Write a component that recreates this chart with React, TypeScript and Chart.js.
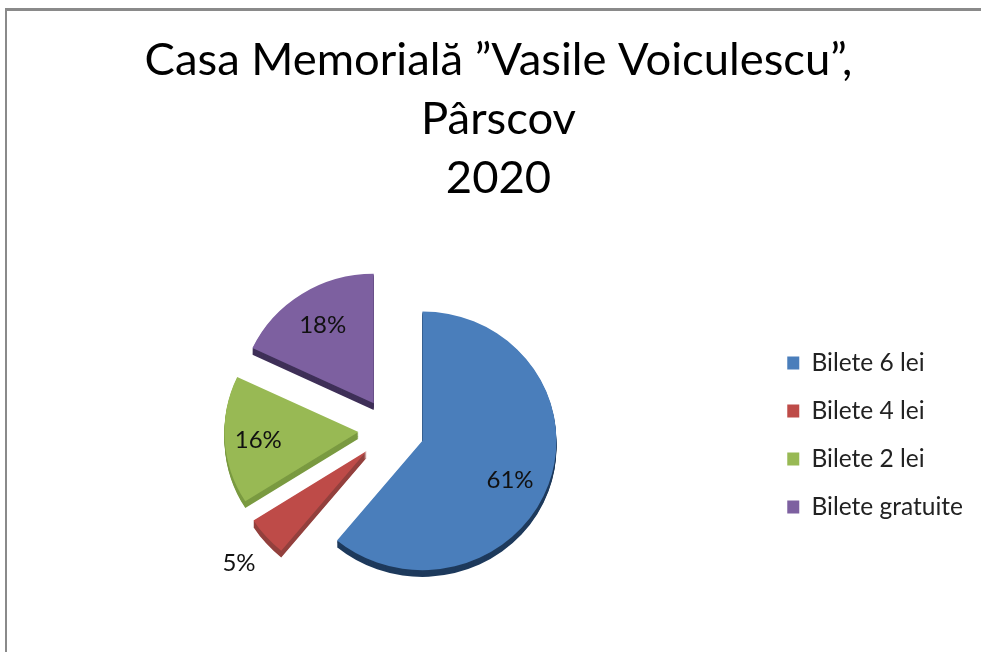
import React, { useEffect, useRef } from "react";
import { Chart, registerables } from "chart.js";

Chart.register(...registerables);

const titleLines = ["Casa Memorială ”Vasile Voiculescu”,", "Pârscov", "2020"];
const categories = ["Bilete 6 lei", "Bilete 4 lei", "Bilete 2 lei", "Bilete gratuite"];
const shares = [61, 5, 16, 18];
const faceColors = ["#4a7ebb", "#be4b48", "#98b954", "#7d60a0"];
const sideColors = ["#1e3a5c", "#93403d", "#7a9a41", "#3f3058"];
const labelRadii = [0.72, 1.29, 0.75, 0.71];
const labelAngleShifts = [5, -1, -1, 0];

const SQUISH = 0.965;
const SHIFT_X = -2.5;
const LIFT = -5;
const DEPTH = 7;
const EXPLODE = 33;
const FONT = "Lato, Carlito, sans-serif";

const centerY = (chart: any) => (chart.chartArea.top + chart.chartArea.bottom) / 2;
const projectY = (chart: any, y: number) => {
  const cy = centerY(chart);
  return cy + LIFT + (y - cy) * SQUISH;
};

const tiltPlugin = {
  id: "tilt",
  beforeDatasetsDraw(chart: any) {
    const ctx = chart.ctx;
    const cy = centerY(chart);
    const arcs = chart.getDatasetMeta(0).data;
    ctx.save();
    ctx.translate(SHIFT_X, cy + LIFT);
    ctx.scale(1, SQUISH);
    ctx.translate(0, -cy);
    const drawExploded = (arc: any, extraY: number) => {
      const mid = (arc.startAngle + arc.endAngle) / 2;
      ctx.save();
      ctx.translate(Math.cos(mid) * EXPLODE, Math.sin(mid) * EXPLODE + extraY);
      arc.draw(ctx);
      ctx.restore();
    };
    arcs.forEach((arc: any, i: number) => {
      const saved = arc.options.backgroundColor;
      arc.options.backgroundColor = sideColors[i];
      for (let d = DEPTH; d > 0; d -= 1) drawExploded(arc, d);
      arc.options.backgroundColor = saved;
      drawExploded(arc, 0);
    });
    ctx.restore();
    ctx.save();
    ctx.font = `24px ${FONT}`;
    ctx.fillStyle = "#111";
    ctx.textAlign = "center";
    ctx.textBaseline = "middle";
    arcs.forEach((arc: any, i: number) => {
      const mid = (arc.startAngle + arc.endAngle) / 2;
      const lab = mid + (labelAngleShifts[i] * Math.PI) / 180;
      const r = arc.outerRadius * labelRadii[i];
      const px = arc.x + Math.cos(mid) * EXPLODE + Math.cos(lab) * r + SHIFT_X;
      const py = arc.y + Math.sin(mid) * EXPLODE + Math.sin(lab) * r;
      ctx.fillText(`${shares[i]}%`, px, projectY(chart, py));
    });
    ctx.restore();
    return false;
  },
  beforeDatasetDraw() {
    return false;
  },
};

export default function App() {
  const ref = useRef<HTMLCanvasElement>(null);
  useEffect(() => {
    document.body.style.margin = "0";
    const chart = new Chart(ref.current!, {
      type: "pie",
      data: {
        labels: categories,
        datasets: [
          {
            data: shares,
            backgroundColor: faceColors,
            borderWidth: 0,
            hoverOffset: 0,
          },
        ],
      },
      options: {
        animation: false,
        responsive: false,
        radius: 134,
        layout: { padding: { left: 24, right: 8, top: 0, bottom: 0 } },
        plugins: {
          tooltip: { enabled: false },
          title: {
            display: true,
            text: titleLines,
            color: "#000",
            font: { family: FONT, size: 45.4, weight: "normal", lineHeight: 1.3 },
            padding: { top: 31, bottom: 10 },
          },
          legend: {
            position: "right",
            fullSize: false,
            labels: {
              color: "#222",
              font: { family: FONT, size: 24.5 },
              boxWidth: 12,
              boxHeight: 13,
              padding: 23.5,
            },
          },
        },
      },
      plugins: [tiltPlugin],
    } as any);
    return () => chart.destroy();
  }, []);
  return (
    <div style={{ position: "relative", width: 981, height: 652, overflow: "hidden", background: "#fff" }}>
      <div
        style={{
          position: "absolute",
          left: 5,
          top: 8,
          width: 990,
          height: 660,
          borderTop: "3px solid #8a8a8a",
          borderLeft: "2px solid #8a8a8a",
        }}
      />
      <canvas ref={ref} width={981} height={652} style={{ position: "absolute", left: 0, top: 0, display: "block" }} />
    </div>
  );
}
